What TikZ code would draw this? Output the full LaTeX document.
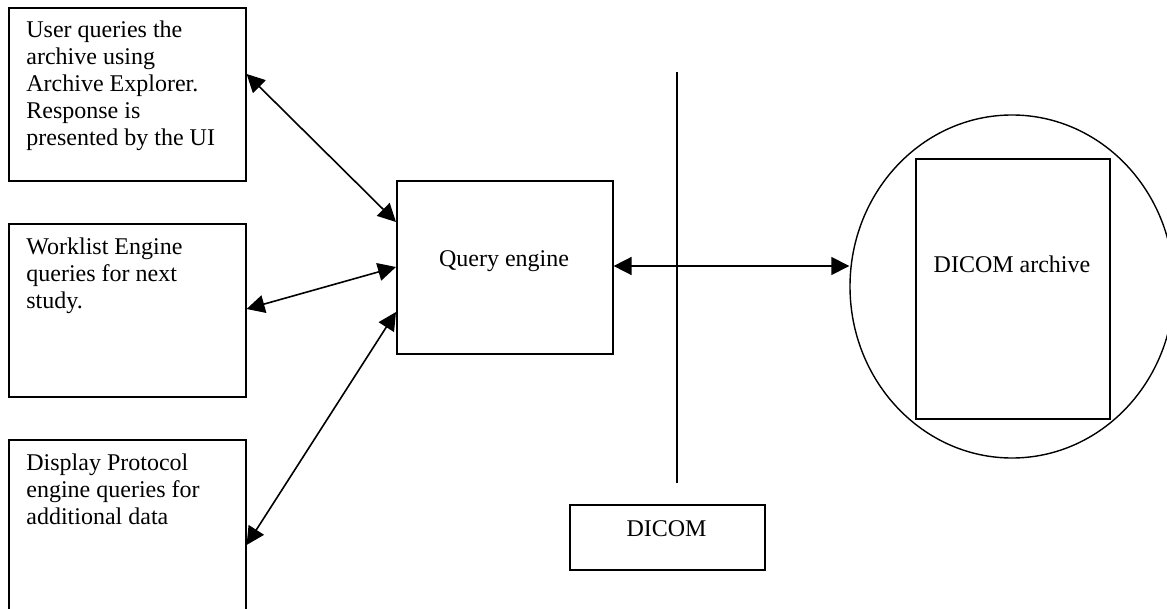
\documentclass[tikz,border=0pt]{standalone}
\usepackage{fontspec}
\setmainfont{Liberation Serif}
\usetikzlibrary{arrows.meta,calc,shapes.geometric}

\tikzset{
  box/.style={draw, line width=0.8pt, rectangle, inner sep=0pt, anchor=north west},
  txt/.style={inner sep=0pt, font=\fontsize{12}{13.5}\selectfont},
  link/.style={line width=0.8pt, {Triangle[length=9pt,width=9pt]}-{Triangle[length=9pt,width=9pt]}},
  para/.style={txt, anchor=base west}
}
\newcommand{\boxtext}[1]{\parbox[t]{110pt}{\raggedright\fontsize{12}{13.5}\selectfont #1}}

\begin{document}
\begin{tikzpicture}[x=0.5pt, y=-0.5pt]
  \useasboundingbox (0,0) rectangle (1167,609);
  \clip (0,0) rectangle (1167,609);

  % client boxes on the left
  \node[box, minimum width=118.5pt, minimum height=86.5pt] (user) at (8,7) {};
  \node[para] (usertext) at (26,38) {\boxtext{User queries the\\archive using\\Archive Explorer.\\Response is\\presented by the UI}};

  \node[box, minimum width=118.5pt, minimum height=86.5pt] (work) at (8,223) {};
  \node[para] (worktext) at (26,255) {\boxtext{Worklist Engine\\queries for next\\study.}};

  \node[box, minimum width=118.5pt, minimum height=86.5pt] (disp) at (8,439) {};
  \node[para] (disptext) at (26,470) {\boxtext{Display Protocol\\engine queries for\\additional data}};

  % query engine
  \node[box, minimum width=108pt, minimum height=86.5pt] (query) at (396,180) {};
  \node[txt, anchor=base] (querytext) at (504,267) {Query engine};

  % DICOM boundary
  \coordinate (wtop) at (677,72);
  \coordinate (wbot) at (677,483);
  \draw[line width=0.8pt] (wtop) -- (wbot);
  \node[box, minimum width=97.5pt, minimum height=32.5pt] (dicom) at (569,504) {};
  \node[txt, anchor=base] (dicomtext) at (666.5,536) {DICOM};

  % archive
  \node[draw, ellipse, line width=0.7pt, minimum width=162pt, minimum height=171.5pt, inner sep=0pt] (archive) at (1012,286.5) {};
  \node[box, minimum width=97pt, minimum height=130pt] (store) at (915,158) {};
  \node[txt, anchor=base] (storetext) at (1012,272) {DICOM archive};

  % connectors
  \draw[link] ($(user.north east)+(0,-33.5pt)$) -- ($(query.north west)+(0,-21pt)$);
  \draw[link] ($(work.north east)+(0,-43pt)$) -- ($(query.north west)+(0,-43.5pt)$);
  \draw[link] ($(disp.north east)+(0,-53pt)$) -- ($(query.north west)+(0,-66pt)$);
  \draw[link] ($(query.north east)+(0,-43pt)$) -- (archive.west |- 0,266);
\end{tikzpicture}
\end{document}
